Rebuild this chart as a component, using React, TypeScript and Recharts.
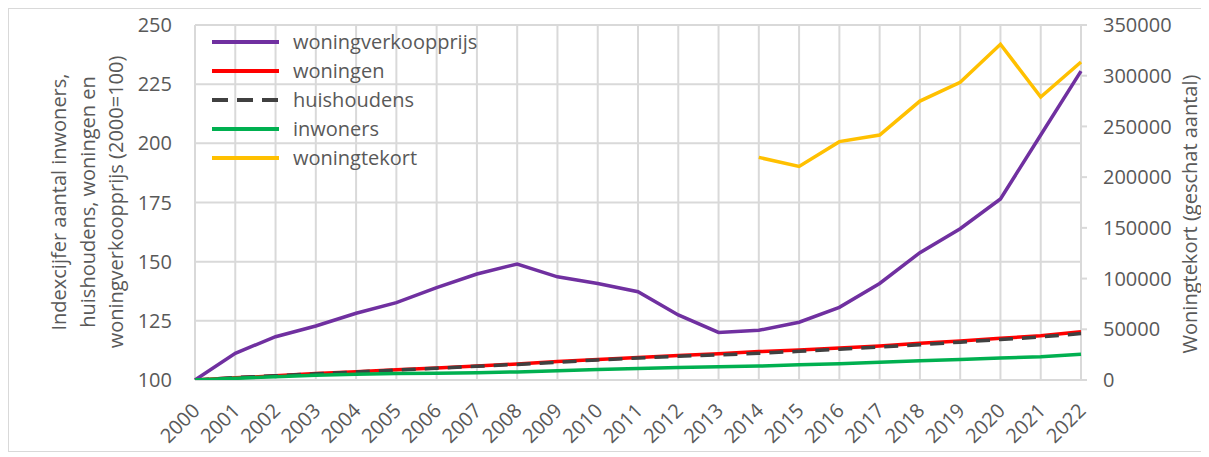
import React from "react";
import { CartesianGrid, Line, LineChart, XAxis, YAxis, Label } from "recharts";

const years = [
  "2000", "2001", "2002", "2003", "2004", "2005", "2006", "2007", "2008", "2009", "2010", "2011",
  "2012", "2013", "2014", "2015", "2016", "2017", "2018", "2019", "2020", "2021", "2022",
];
const woningverkoopprijs = [
  100, 111.3, 118.3, 122.8, 128.2, 132.7, 139, 144.8, 149, 143.6, 140.8, 137.3,
  127.5, 120.1, 121, 124.4, 130.7, 140.8, 153.8, 163.9, 176.5, 203.5, 230.5,
];
const woningen = [
  100, 100.9, 101.8, 102.7, 103.5, 104.3, 105.1, 105.9, 106.8, 107.8, 108.7, 109.5,
  110.3, 111.1, 112.0, 112.7, 113.5, 114.4, 115.5, 116.5, 117.6, 118.7, 120.4,
];
const huishoudens = [
  100, 101.0, 101.8, 102.6, 103.4, 104.2, 105.0, 105.8, 106.6, 107.5, 108.5, 109.3,
  110.0, 110.6, 111.3, 112.1, 113.0, 113.9, 114.9, 116.0, 117.1, 118.2, 119.6,
];
const inwoners = [
  100, 100.7, 101.4, 102.0, 102.4, 102.7, 102.9, 103.1, 103.4, 103.9, 104.4, 104.9,
  105.3, 105.6, 105.9, 106.4, 106.9, 107.5, 108.1, 108.7, 109.3, 109.8, 110.9,
];
const woningtekort: (number | null)[] = [
  null, null, null, null, null, null, null, null, null, null, null, null,
  null, null, 219500, 210500, 235000, 241500, 275000, 293500, 331000, 279000, 313500,
];

const leftTicks = [100, 125, 150, 175, 200, 225, 250];
const rightTicks = [0, 50000, 100000, 150000, 200000, 250000, 300000, 350000];
const leftTitle = ["Indexcijfer aantal inwoners,", "huishoudens, woningen en", "woningverkoopprijs (2000=100)"];
const rightTitle = "Woningtekort (geschat aantal)";

const series = [
  { key: "woningverkoopprijs", color: "#7030A0", dash: undefined as string | undefined },
  { key: "woningen", color: "#FF0000", dash: undefined },
  { key: "huishoudens", color: "#404040", dash: "14 9" },
  { key: "inwoners", color: "#00B050", dash: undefined },
  { key: "woningtekort", color: "#FFC000", dash: undefined },
];

const data = years.map((year, i) => ({
  year,
  woningverkoopprijs: woningverkoopprijs[i],
  woningen: woningen[i],
  huishoudens: huishoudens[i],
  inwoners: inwoners[i],
  woningtekort: woningtekort[i],
}));

const FONT = "'Open Sans', sans-serif";
const TEXT = "#595959";
const GRID = "#d9d9d9";

function XTick({ x, y, payload }: any) {
  const ax = x + 6;
  const ay = y + 24;
  return (
    <text x={ax} y={ay} textAnchor="end" fill={TEXT} fontSize={20} fontFamily={FONT} transform={`rotate(-45, ${ax}, ${ay})`}>
      {payload.value}
    </text>
  );
}

function LeftTitle() {
  const xs = [49, 78, 106];
  const cy = 193;
  return (
    <g>
      {leftTitle.map((line, i) => (
        <text
          key={line}
          x={xs[i]}
          y={cy}
          textAnchor="middle"
          dominantBaseline="central"
          fill={TEXT}
          fontSize={20}
          fontFamily={FONT}
          transform={`rotate(-90, ${xs[i]}, ${cy})`}
        >
          {line}
        </text>
      ))}
    </g>
  );
}

function RightTitle() {
  const x = 1180;
  const cy = 205;
  return (
    <text
      x={x}
      y={cy}
      textAnchor="middle"
      dominantBaseline="central"
      fill={TEXT}
      fontSize={20}
      fontFamily={FONT}
      transform={`rotate(-90, ${x}, ${cy})`}
    >
      {rightTitle}
    </text>
  );
}

// legend sits inside the plot, top-left, no background
function LegendBox() {
  return (
    <div style={{ position: "absolute", top: 18, left: 203, fontFamily: FONT, fontSize: 20, color: TEXT, lineHeight: 1 }}>
      {series.map((s) => (
        <div key={s.key} style={{ display: "flex", alignItems: "center", height: 29.2 }}>
          <svg width={67} height={10} style={{ marginRight: 14 }}>
            <line x1={0} y1={5} x2={67} y2={5} stroke={s.color} strokeWidth={4} strokeDasharray={s.dash ? "16 9" : undefined} />
          </svg>
          <span>{s.key}</span>
        </div>
      ))}
    </div>
  );
}

export default function App() {
  return (
    <div style={{ position: "relative", width: 1192, height: 442, border: `1px solid ${GRID}`, background: "#fff" }}>
      <LineChart width={1192} height={440} data={data} margin={{ top: 16, right: 20, bottom: 9, left: 86 }}>
        <CartesianGrid yAxisId="left" stroke={GRID} strokeWidth={2} />
        <XAxis dataKey="year" interval={0} tick={<XTick />} tickLine={false} axisLine={false} height={60} />
        <YAxis
          yAxisId="left"
          domain={[100, 250]}
          ticks={leftTicks}
          allowDataOverflow
          tickLine={false}
          axisLine={false}
          tickSize={6}
          tickMargin={17}
          width={100}
          tick={{ fill: TEXT, fontSize: 20, fontFamily: FONT }}
        >
          <Label content={<LeftTitle />} />
        </YAxis>
        <YAxis
          yAxisId="right"
          orientation="right"
          domain={[0, 350000]}
          ticks={rightTicks}
          allowDataOverflow
          tickLine={{ stroke: GRID, strokeWidth: 2 }}
          axisLine={false}
          tickSize={6}
          tickMargin={16}
          width={100}
          tick={{ fill: TEXT, fontSize: 20, fontFamily: FONT, textAnchor: "start" }}
        >
          <Label content={<RightTitle />} />
        </YAxis>
        {series.map((s) => (
          <Line
            key={s.key}
            yAxisId={s.key === "woningtekort" ? "right" : "left"}
            type="linear"
            dataKey={s.key}
            stroke={s.color}
            strokeWidth={3.5}
            strokeDasharray={s.dash}
            dot={false}
            activeDot={false}
            isAnimationActive={false}
          />
        ))}
      </LineChart>
      <LegendBox />
    </div>
  );
}
